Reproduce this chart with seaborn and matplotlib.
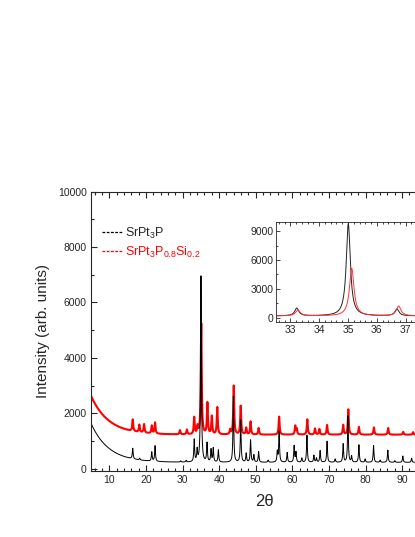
import numpy as np
import pandas as pd
import seaborn as sns
import matplotlib
matplotlib.use('Agg')
import matplotlib.pyplot as plt
from matplotlib.lines import Line2D
from matplotlib.ticker import MultipleLocator

# --- main pattern: peak positions (2theta) and heights above background (counts)
black_pos = [16.4, 18.3, 21.6, 22.5, 29.5, 31.0, 33.2, 34.0, 35.05, 36.7, 37.8, 38.4, 39.8,
             43.9, 45.9, 47.4, 48.6, 49.5, 50.8, 53.4, 55.9, 56.4, 58.6, 60.5, 61.0, 62.6,
             64.0, 65.9, 66.6, 67.6, 69.5, 71.7, 73.9, 75.2, 76.2, 78.2, 79.9, 82.2, 84.0,
             86.1, 88.0, 90.2, 92.6]
black_h = [380, 60, 330, 560, 40, 60, 800, 420, 6750, 680, 450, 500, 440,
           2380, 1520, 320, 800, 260, 380, 80, 380, 1100, 350, 590, 360, 150,
           980, 250, 150, 420, 760, 120, 660, 1670, 220, 630, 120, 610, 80,
           440, 60, 230, 150]
black_bg = [230, 1410, 4.8]  # offset, amplitude, decay

red_pos = [16.4, 18.2, 19.5, 21.6, 22.5, 29.3, 31.2, 33.2, 34.1, 35.12, 36.8, 38.0, 39.5,
           43.0, 44.0, 45.9, 47.4, 48.6, 50.8, 56.4, 60.8, 61.2, 64.1, 66.2, 67.4, 69.5,
           73.9, 75.3, 78.2, 82.3, 86.2, 90.3, 93.0]
red_h = [420, 270, 310, 280, 400, 150, 170, 610, 270, 4000, 1130, 650, 980,
         170, 1760, 1030, 240, 470, 240, 650, 310, 200, 550, 220, 200, 350,
         350, 910, 280, 260, 240, 100, 90]
red_bg = [1230, 1400, 4.8]

# --- inset (32.5-37.5 deg)
inset_black_pos = [33.22, 35.01, 36.70]
inset_black_h = [800, 9600, 700]
inset_red_pos = [33.26, 35.13, 36.76]
inset_red_h = [620, 4950, 1020]
inset_bg = 180


def pattern(x, pos, h, hw, bg):
    y = np.full_like(x, float(bg[0]))
    if len(bg) > 1:
        y += bg[1] * np.exp(-(x - 5.0) / bg[2])
    for p, a in zip(pos, h):
        y += a * hw ** 2 / (hw ** 2 + (x - p) ** 2)
    return y


two_theta = np.arange(5.0, 100.0, 0.02)
main_df = pd.concat([
    pd.DataFrame({'x': two_theta, 'y': pattern(two_theta, black_pos, black_h, 0.13, black_bg), 's': 'black'}),
    pd.DataFrame({'x': two_theta, 'y': pattern(two_theta, red_pos, red_h, 0.15, red_bg), 's': 'red'}),
])

ins_x = np.arange(32.5, 37.5, 0.005)
inset_df = pd.concat([
    pd.DataFrame({'x': ins_x, 'y': pattern(ins_x, inset_black_pos, inset_black_h, 0.085, [inset_bg]), 's': 'black'}),
    pd.DataFrame({'x': ins_x, 'y': pattern(ins_x, inset_red_pos, inset_red_h, 0.095, [inset_bg]), 's': 'red'}),
])

sns.set_style('ticks')
plt.rcParams['font.family'] = ['Liberation Sans', 'DejaVu Sans']
plt.rcParams['mathtext.fontset'] = 'custom'
plt.rcParams['mathtext.rm'] = 'Liberation Sans'
plt.rcParams['axes.linewidth'] = 0.8

fig = plt.figure(figsize=(4.15, 5.37), dpi=100)
ax = fig.add_axes([91 / 415, 1 - 471 / 537, 347.7 / 415, 279.5 / 537])

# red first, black drawn over it
sns.lineplot(data=main_df[main_df.s == 'red'], x='x', y='y', color='#ff0000', lw=1.5,
             estimator=None, ax=ax)
sns.lineplot(data=main_df[main_df.s == 'black'], x='x', y='y', color='black', lw=0.7,
             estimator=None, ax=ax)
ax.set_xlim(5, 100)
ax.set_ylim(-80, 10000)
ax.xaxis.set_major_locator(MultipleLocator(10))
ax.xaxis.set_minor_locator(MultipleLocator(2))
ax.yaxis.set_major_locator(MultipleLocator(2000))
ax.yaxis.set_minor_locator(MultipleLocator(1000))
ax.tick_params(which='both', direction='in', top=True, right=True, labelsize=7.5, width=0.8, pad=3)
ax.tick_params(which='major', length=4)
ax.tick_params(which='minor', length=2)
ax.set_xticks(range(10, 100, 10))
ax.set_xlabel('2θ', fontsize=12, labelpad=6)
ax.set_ylabel('Intensity (arb. units)', fontsize=11, labelpad=6)

handles = [Line2D([], [], color='black', lw=0.9, ls=(0, (2.2, 1.2))),
           Line2D([], [], color='#ff0000', lw=0.9, ls=(0, (2.2, 1.2)))]
labels = [r'SrPt$_\mathregular{3}$P', r'SrPt$_\mathregular{3}$P$_\mathregular{0.8}$Si$_\mathregular{0.2}$']
leg = ax.legend(handles, labels, loc='upper left', bbox_to_anchor=(0.0, 0.918), frameon=False,
                fontsize=9, handlelength=1.6, handletextpad=0.2, labelspacing=0.3, borderaxespad=0.5)
leg.get_texts()[1].set_color('#ff0000')

ins = fig.add_axes([276 / 415, 1 - 322 / 537, 144 / 415, 100 / 537])
sns.lineplot(data=inset_df[inset_df.s == 'black'], x='x', y='y', color='#222222', lw=0.7,
             estimator=None, ax=ins)
sns.lineplot(data=inset_df[inset_df.s == 'red'], x='x', y='y', color='#ff3333', lw=0.7,
             estimator=None, ax=ins)
ins.set_xlim(32.5, 37.5)
ins.set_ylim(-450, 9950)
ins.xaxis.set_major_locator(MultipleLocator(1))
ins.xaxis.set_minor_locator(MultipleLocator(0.2))
ins.yaxis.set_major_locator(MultipleLocator(3000))
ins.yaxis.set_minor_locator(MultipleLocator(1500))
ins.tick_params(which='both', direction='in', top=True, right=True, labelsize=7.5, width=0.6, pad=2)
ins.tick_params(which='major', length=3)
ins.tick_params(which='minor', length=1.5)
ins.set_xlabel('')
ins.set_ylabel('')
for s in ins.spines.values():
    s.set_linewidth(0.6)

fig.savefig('out.png', dpi=100)
